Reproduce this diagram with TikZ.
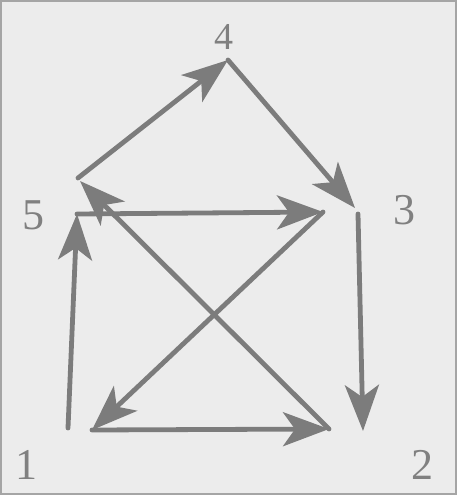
\documentclass[tikz,border=0pt]{standalone}
\usepackage{fontspec}
\setmainfont{Liberation Serif}
\usetikzlibrary{arrows.meta}
\definecolor{bgc}{HTML}{ECECEC}
\definecolor{linec}{HTML}{7C7C7C}
\definecolor{framec}{HTML}{A5A5A5}
\definecolor{labc}{HTML}{808080}
\begin{document}
\begin{tikzpicture}[x=1pt,y=-1pt,
  edge/.style={draw=linec,line width=4.8pt,line cap=round,
    -{Stealth[length=46pt 0,width=34pt 0,inset=12pt]}},
  lab/.style={text=labc,font=\fontsize{44}{44}\selectfont,inner sep=0pt},
  labsmall/.style={lab,font=\fontsize{38}{38}\selectfont}]
\fill[bgc] (0,0) rectangle (457,495);
\useasboundingbox (0,0) rectangle (457,495);
\draw[framec,line width=2pt] (1,1) rectangle (456,494);
% vertex points
\coordinate (p4) at (228,60);
\coordinate (p5a) at (78,178);
\coordinate (p5b) at (77,214);
\coordinate (p5t) at (80,181);
\coordinate (p3a) at (355,208);
\coordinate (p3b) at (358,214);
\coordinate (p3c) at (323,212);
\coordinate (p2a) at (363,431);
\coordinate (p2b) at (329,429);
\coordinate (p1a) at (68,428);
\coordinate (p1b) at (92,430);
% labels
\node[labsmall] (l4) at (224,37) {4};
\node[lab] (l5) at (33,215) {5};
\node[lab] (l3) at (404,210) {3};
\node[lab] (l1) at (27,465) {1};
\node[lab] (l2) at (422,465) {2};
% edges
\draw[edge] (p5a) -- (p4);
\draw[edge] (p4) -- (p3a);
\draw[edge] (p3b) -- (p2a);
\draw[edge] (p1a) -- (p5b);
\draw[edge] (p5b) -- (p3c);
\draw[edge] (p3c) -- (p1b);
\draw[edge] (p1b) -- (p2b);
\draw[edge] (p2b) -- (p5t);
\end{tikzpicture}
\end{document}
